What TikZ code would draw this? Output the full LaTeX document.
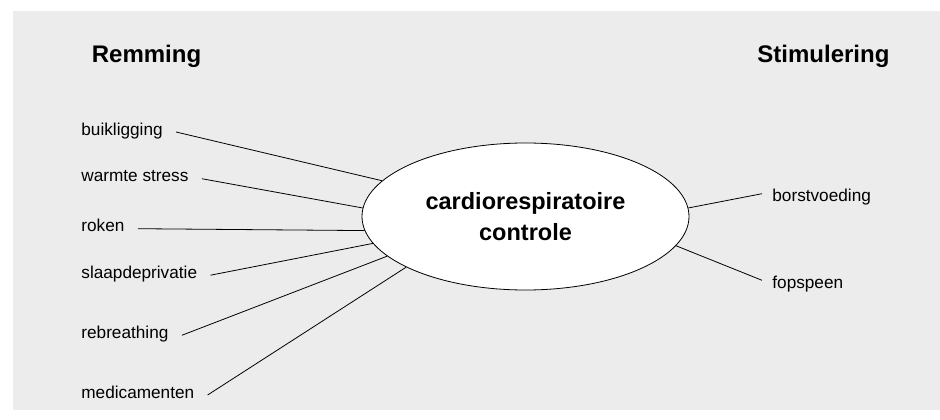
\documentclass[tikz,border=0pt]{standalone}
\usepackage{fontspec}
\setmainfont{Liberation Sans}
\usepackage{tikz}
\usetikzlibrary{shapes.geometric}
\definecolor{bggray}{RGB}{236,236,236}

\begin{document}
\begin{tikzpicture}[x=1pt,y=-1pt,line width=0.8pt,
    lbl/.style={anchor=west,inner xsep=13pt,inner ysep=0pt,text height=10pt,text depth=4pt,font=\fontsize{17.2}{20}\selectfont},
    rlbl/.style={lbl,inner xsep=10pt,text height=16pt,text depth=0pt},
    head/.style={anchor=base west,inner sep=0pt,font=\fontsize{24}{28}\selectfont\bfseries}]
    \useasboundingbox (0,0) rectangle (940,420);
    \fill[bggray] (13,11) rectangle (940,410);

    \node[head] (rem) at (91.5,63) {Remming};
    \node[head] (stim) at (757,63) {Stimulering};

    \node[draw,fill=white,ellipse,minimum width=327pt,minimum height=147pt,inner sep=0pt,
        align=center,font=\fontsize{23.5}{31.7}\selectfont\bfseries] (c) at (525.5,216.5)
        {cardiorespiratoire\\controle};

    \node[lbl] (r1) at (68,132) {buikligging};
    \node[lbl] (r2) at (68,178.7) {warmte stress};
    \node[lbl] (r3) at (68,228.7) {roken};
    \node[lbl] (r4) at (68,275.2) {slaapdeprivatie};
    \node[lbl] (r5) at (68,335.3) {rebreathing};
    \node[lbl] (r6) at (68,395) {medicamenten};
    \node[rlbl] (s1) at (762,193.7) {borstvoeding};
    \node[rlbl] (s2) at (762,280.3) {fopspeen};

    \draw (r1.east) -- (c.166);
    \draw (r2.east) -- (c.177);
    \draw (r3.east) -- (c.185);
    \draw (r4.east) -- (c.190);
    \draw (r5.east) -- (c.196);
    \draw (r6.east) -- (c.203);
    \draw (c.3) -- (s1.west);
    \draw (c.349) -- (s2.west);
\end{tikzpicture}
\end{document}
